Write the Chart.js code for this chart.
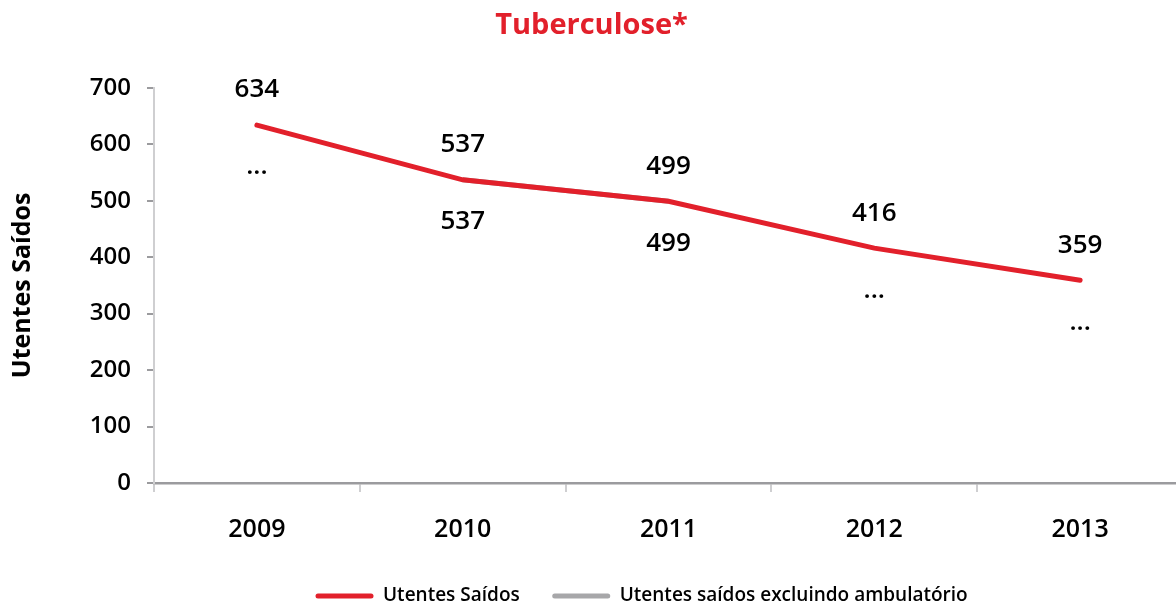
<!DOCTYPE html>
<html>
<head>
<meta charset="utf-8">
<script src="https://cdn.jsdelivr.net/npm/chart.js@4.4.1/dist/chart.umd.min.js"></script>
<style>
html, body { margin: 0; padding: 0; background: #fff; overflow: hidden; }
#wrap { width: 1190px; height: 606px; }
</style>
</head>
<body>
<div id="wrap"><canvas id="chart" width="1190" height="606"></canvas></div>
<script>
// Chart data
var years = ["2009", "2010", "2011", "2012", "2013"];
var utentesSaidos = [634, 537, 499, 416, 359];
var utentesExclAmb = [null, 537, 499, null, null];
var exclAmbLabels = ["...", "537", "499", "...", "..."];
var yTicks = [0, 100, 200, 300, 400, 500, 600, 700];

var RED = "#e2202b";
var GREY = "#a7a7a9";
var FONT = "'Open Sans', 'Noto Sans', sans-serif";

// Value labels above the red line, below it for the second series
var valueLabels = {
    id: "valueLabels",
    afterDatasetsDraw: function (chart)
    {
        var ctx = chart.ctx;
        var redMeta = chart.getDatasetMeta(0);
        var greyMeta = chart.getDatasetMeta(1);
        ctx.save();
        ctx.font = "600 26px " + FONT;
        ctx.fillStyle = "#000";
        ctx.textAlign = "center";
        ctx.textBaseline = "middle";
        redMeta.data.forEach(function (pt, i)
        {
            ctx.fillText(String(utentesSaidos[i]), pt.x, pt.y - 35);
        });
        greyMeta.data.forEach(function (pt, i)
        {
            var ref = utentesExclAmb[i] === null ? redMeta.data[i] : pt;
            ctx.fillText(exclAmbLabels[i], ref.x, ref.y + 42);
        });
        ctx.restore();
    }
};

// Legend drawn at the bottom, line swatches
var lineLegend = {
    id: "lineLegend",
    afterDraw: function (chart)
    {
        var ctx = chart.ctx;
        var x = 316;
        var y = 596;
        ctx.save();
        ctx.font = "600 19px " + FONT;
        ctx.textBaseline = "middle";
        ctx.textAlign = "left";
        chart.data.datasets.forEach(function (ds)
        {
            ctx.strokeStyle = ds.borderColor;
            ctx.lineWidth = 5;
            ctx.lineCap = "round";
            ctx.beginPath();
            ctx.moveTo(x + 2, y);
            ctx.lineTo(x + 55, y);
            ctx.stroke();
            ctx.fillStyle = "#000";
            ctx.fillText(ds.label, x + 67, y);
            x += 67 + ctx.measureText(ds.label).width + 33;
        });
        ctx.restore();
    }
};

new Chart(document.getElementById("chart"), {
    type:    "line",
    data:    {
        labels:   years,
        datasets: [
            {
                label:          "Utentes Saídos",
                data:           utentesSaidos,
                borderColor:    RED,
                borderWidth:    5,
                borderCapStyle: "round",
                pointRadius:    0,
                fill:           false,
                tension:        0
            },
            {
                label:       "Utentes saídos excluindo ambulatório",
                data:        utentesExclAmb,
                borderColor: GREY,
                borderWidth: 5,
                pointRadius: 0,
                fill:        false,
                tension:     0
            }
        ]
    },
    options: {
        responsive: false,
        animation:  false,
        layout:     {
            padding: {left: 0, right: 7, top: 0, bottom: 38}
        },
        plugins:    {
            legend:  {display: false},
            tooltip: {enabled: false},
            title:   {
                display: true,
                text:    "Tuberculose*",
                color:   RED,
                font:    {family: FONT, size: 29, weight: "bold"},
                padding: {top: 8, bottom: 45}
            }
        },
        scales:     {
            x: {
                offset: true,
                grid:   {
                    offset:          true,
                    drawOnChartArea: false,
                    drawTicks:       true,
                    tickLength:      9,
                    color:           "#cfcfd1",
                    lineWidth:       2
                },
                border: {color: "#9b9b9e", width: 2.5},
                ticks:  {
                    color:   "#000",
                    font:    {family: FONT, size: 25, weight: "600"},
                    padding: 23
                }
            },
            y: {
                min:      0,
                max:      700,
                afterBuildTicks: function (scale)
                {
                    scale.ticks = yTicks.map(function (v) { return {value: v}; });
                },
                afterFit: function (scale)
                {
                    scale.width = 154;
                },
                grid:     {
                    drawOnChartArea: false,
                    drawTicks:       true,
                    tickLength:      7,
                    color:           "#9b9b9e",
                    lineWidth:       2
                },
                border:   {color: "#cfcfd1", width: 2},
                ticks:    {
                    color:   "#000",
                    font:    {family: FONT, size: 24, weight: "600"},
                    padding: 16
                },
                title:    {
                    display: true,
                    text:    "Utentes Saídos",
                    color:   "#000",
                    font:    {family: FONT, size: 25, weight: "bold"},
                    padding: {top: 8, bottom: 0}
                }
            }
        }
    },
    plugins: [valueLabels, lineLegend]
});
</script>
</body>
</html>
